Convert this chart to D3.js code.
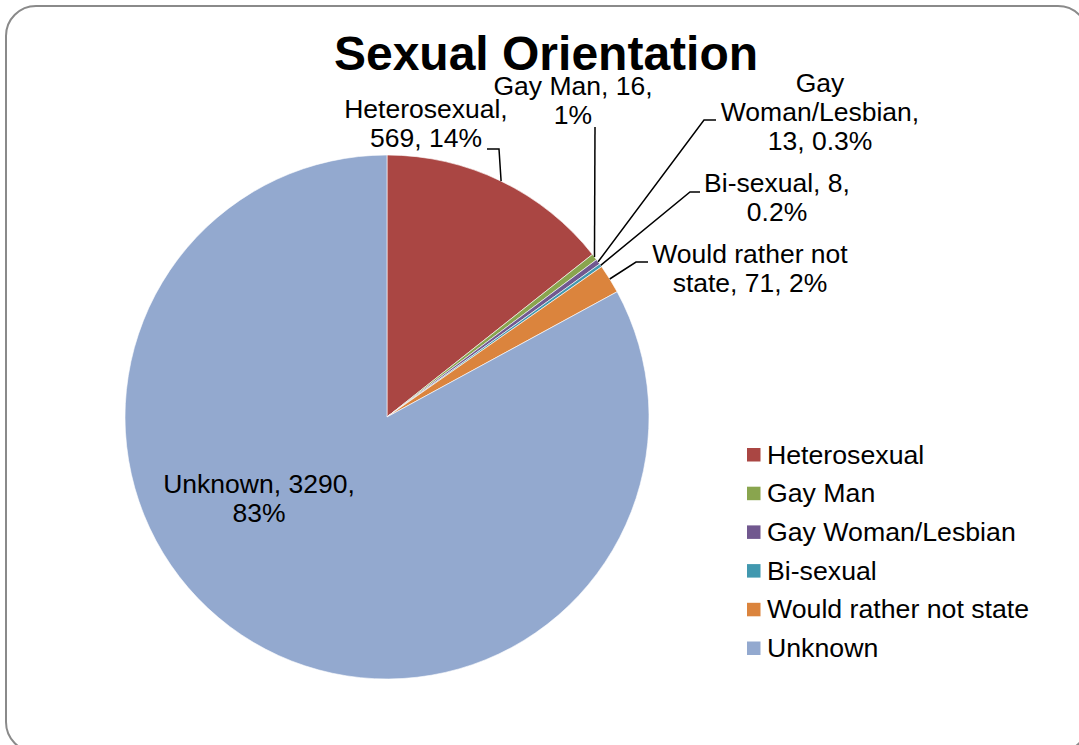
<!DOCTYPE html>
<html>
<head>
<meta charset="utf-8">
<script src="https://cdn.jsdelivr.net/npm/d3@7"></script>
<style>
  html, body { margin: 0; padding: 0; background: #fff; }
  svg { display: block; }
  text { font-family: "Liberation Sans", Arial, sans-serif; fill: #000; }
</style>
</head>
<body>
<svg id="chart" width="1079" height="745"></svg>
<script>
// Survey counts by sexual orientation
const categories = ["Heterosexual", "Gay Man", "Gay Woman/Lesbian", "Bi-sexual", "Would rather not state", "Unknown"];
const counts = [569, 16, 13, 8, 71, 3290];
const percentLabels = ["14%", "1%", "0.3%", "0.2%", "2%", "83%"];
const colors = ["#AA4643", "#89A54E", "#71588F", "#4198AF", "#DB843D", "#93A9CF"];

// Data-label text lines for each slice
const labelLines = [
  ["Heterosexual,", "569, 14%"],
  ["Gay Man, 16,", "1%"],
  ["Gay", "Woman/Lesbian,", "13, 0.3%"],
  ["Bi-sexual, 8,", "0.2%"],
  ["Would rather not", "state, 71, 2%"],
  ["Unknown, 3290,", "83%"]
];

// Label placement: text centre x, first baseline, and leader-line bend points
const labelLayout = [
  { x: 426, y: 118, leader: [[499, 149], [487, 149]] },
  { x: 573, y: 95,  leader: [[595, 127]] },
  { x: 820, y: 92,  leader: [[704, 120], [716, 120]] },
  { x: 777, y: 192, leader: [[690, 192], [700, 192]] },
  { x: 750, y: 263, leader: [[636, 262], [648, 262]] },
  { x: 259, y: 493, leader: null }
];

const svg = d3.select("#chart");

// Chart area frame
svg.append("rect")
  .attr("x", 6).attr("y", 6)
  .attr("width", 1082).attr("height", 746)
  .attr("rx", 30).attr("ry", 30)
  .attr("fill", "#fff")
  .attr("stroke", "#8a8a8a")
  .attr("stroke-width", 2);

// Title
svg.append("text")
  .attr("x", 546).attr("y", 70)
  .attr("text-anchor", "middle")
  .style("font-size", "48px")
  .style("font-weight", "bold")
  .text("Sexual Orientation");

const cx = 387, cy = 417, radius = 262;
const data = categories.map((c, i) => ({ name: c, value: counts[i], color: colors[i], i }));

const pie = d3.pie().sort(null).value(d => d.value);
const arcs = pie(data);
const arc = d3.arc().innerRadius(0).outerRadius(radius);

const g = svg.append("g").attr("transform", `translate(${cx},${cy})`);

g.selectAll("path.slice")
  .data(arcs)
  .enter().append("path")
  .attr("class", "slice")
  .attr("d", arc)
  .attr("fill", d => d.data.color)
  .attr("stroke", "#fff")
  .attr("stroke-width", 0.6)
  .attr("stroke-linejoin", "round");

// Leader lines from slice edge to label
const line = d3.line();
arcs.forEach((a, i) => {
  const lay = labelLayout[i];
  if (!lay.leader) return;
  const mid = (a.startAngle + a.endAngle) / 2;
  const p0 = [cx + radius * Math.sin(mid), cy - radius * Math.cos(mid)];
  svg.append("path")
    .attr("d", line([p0].concat(lay.leader)))
    .attr("fill", "none")
    .attr("stroke", "#000")
    .attr("stroke-width", 1.5);
});

// Data labels
labelLines.forEach((lines, i) => {
  const lay = labelLayout[i];
  const t = svg.append("text")
    .attr("text-anchor", "middle")
    .style("font-size", "26.5px");
  lines.forEach((s, k) => {
    t.append("tspan")
      .attr("x", lay.x)
      .attr("y", lay.y + k * 29)
      .text(s);
  });
});

// Legend
const legendX = 747, legendY = 448, legendStep = 38.7, sw = 13.5;
const legend = svg.append("g");
categories.forEach((c, i) => {
  const y = legendY + i * legendStep;
  legend.append("rect")
    .attr("x", legendX).attr("y", y)
    .attr("width", sw).attr("height", sw)
    .attr("fill", colors[i]);
  legend.append("text")
    .attr("x", 767).attr("y", y + 15.5)
    .style("font-size", "26.7px")
    .text(c);
});
</script>
</body>
</html>
